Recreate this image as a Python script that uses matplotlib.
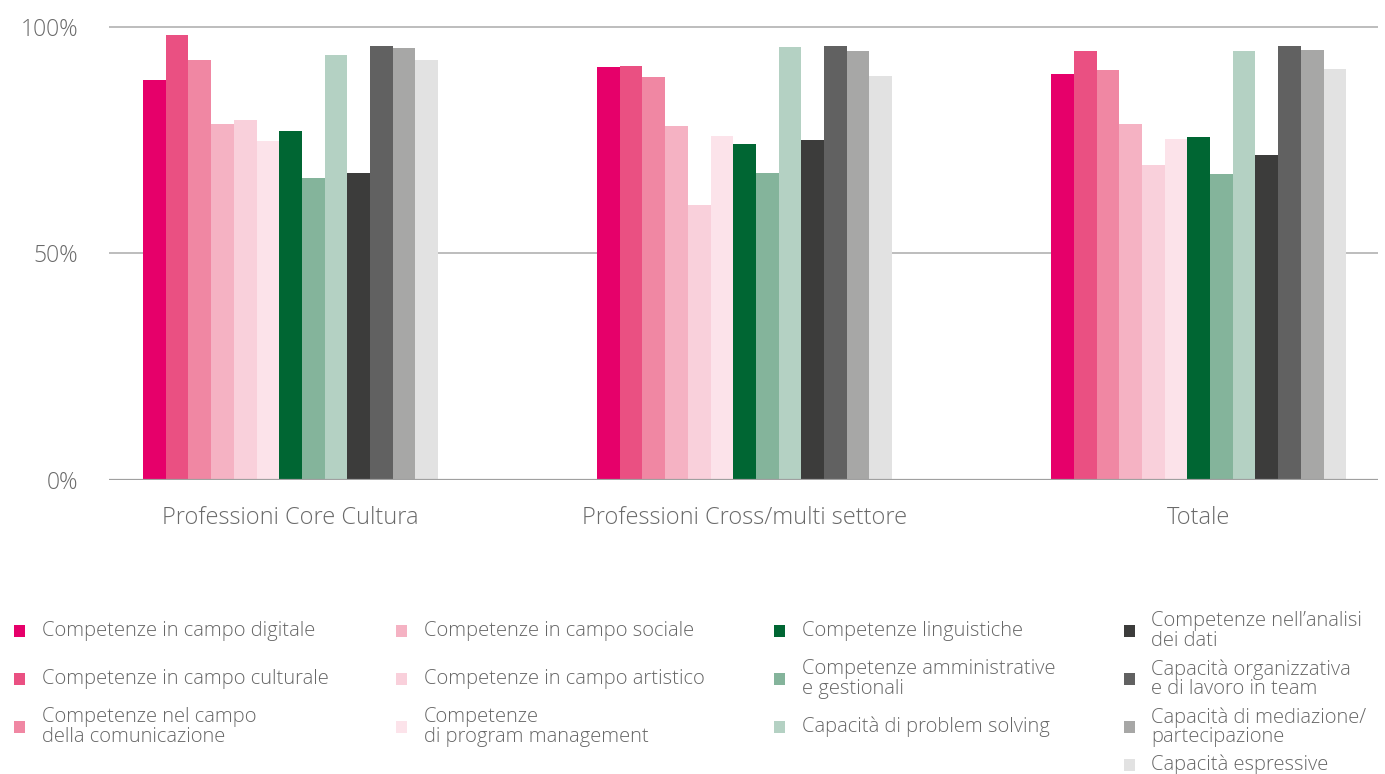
import matplotlib.pyplot as plt
import numpy as np
from matplotlib.patches import Rectangle

plt.rcParams['font.family'] = ['Open Sans', 'DejaVu Sans']
plt.rcParams['font.weight'] = 'light'

# dati (%)
categorie = ['Professioni Core Cultura', 'Professioni Cross/multi settore', 'Totale']

competenze = ['Competenze in campo digitale',
              'Competenze in campo culturale',
              'Competenze nel campo\ndella comunicazione',
              'Competenze in campo sociale',
              'Competenze in campo artistico',
              'Competenze\ndi program management',
              'Competenze linguistiche',
              'Competenze amministrative\ne gestionali',
              'Capacità di problem solving',
              'Competenze nell’analisi\ndei dati',
              'Capacità organizzativa\ne di lavoro in team',
              'Capacità di mediazione/\npartecipazione',
              'Capacità espressive']

core_cultura = [88.3, 98.2, 92.7, 78.6, 79.3, 74.7, 76.9, 66.7, 93.8, 67.8, 95.8, 95.2, 92.7]
cross_multi = [91.0, 91.4, 88.8, 78.0, 60.6, 75.8, 74.0, 67.8, 95.4, 74.9, 95.8, 94.7, 89.0]
totale = [89.6, 94.7, 90.5, 78.4, 69.4, 75.3, 75.6, 67.4, 94.7, 71.6, 95.8, 94.9, 90.7]

colori = ['#E6006A', '#EA5082', '#F087A3', '#F5B2C3', '#F9D0DB', '#FCE3EA',
          '#006633', '#84B49B', '#B4D1C3',
          '#3C3C3B', '#616161', '#A7A7A6', '#E2E2E2']

W, H = 1385, 774
fig = plt.figure(figsize=(W / 100, H / 100), dpi=100)

# assi in pixel: x 109..1378, y 0% a 480, 100% a 26.5
top_val = 103
px_per_unit = (480 - 26.5) / 100
ax_top = 480 - top_val * px_per_unit
ax = fig.add_axes([109 / W, 1 - 480 / H, (1378 - 109) / W, (480 - ax_top) / H])

valori = np.array([core_cultura, cross_multi, totale])
x = np.arange(len(categorie))
n = len(competenze)
w = 0.05
for i in range(n):
    ax.bar(x + (i - (n - 1) / 2) * w, valori[:, i], width=w, color=colori[i],
           edgecolor='none', zorder=3)

ax.set_xlim(-0.4, 2.395)
ax.set_ylim(0, top_val)
for s in ax.spines.values():
    s.set_visible(False)
ax.axhline(0, color='#a0a0a0', lw=1.6, zorder=4)
for yv in [50, 100]:
    ax.axhline(yv, color='#bdbdbd', lw=1.4, zorder=1)

ax.set_yticks([0, 50, 100])
ax.set_yticklabels(['0%', '50%', '100%'])
ax.set_xticks(x)
ax.set_xticklabels(categorie)
ax.tick_params(axis='y', length=0, pad=22, labelsize=16.5, labelcolor='#6a6a6a')
ax.tick_params(axis='x', length=0, pad=19, labelsize=17, labelcolor='#6a6a6a')

# legenda manuale
col_box = [14, 396, 774, 1124]
col_txt = [42, 424, 802, 1151]
righe = [631, 679, 727, 765]
pos = [(0, 0), (0, 1), (0, 2), (1, 0), (1, 1), (1, 2), (2, 0), (2, 1), (2, 2),
       (3, 0), (3, 1), (3, 2), (3, 3)]
for i, (c, r) in enumerate(pos):
    yc = righe[r]
    fig.add_artist(Rectangle((col_box[c] / W, 1 - (yc + 6) / H), 11 / W, 12 / H,
                             transform=fig.transFigure, color=colori[i], lw=0))
    fig.text(col_txt[c] / W, 1 - yc / H, competenze[i], ha='left', va='center',
             fontsize=14.5, color='#666666', linespacing=0.97)

fig.savefig('out.png', dpi=100)
